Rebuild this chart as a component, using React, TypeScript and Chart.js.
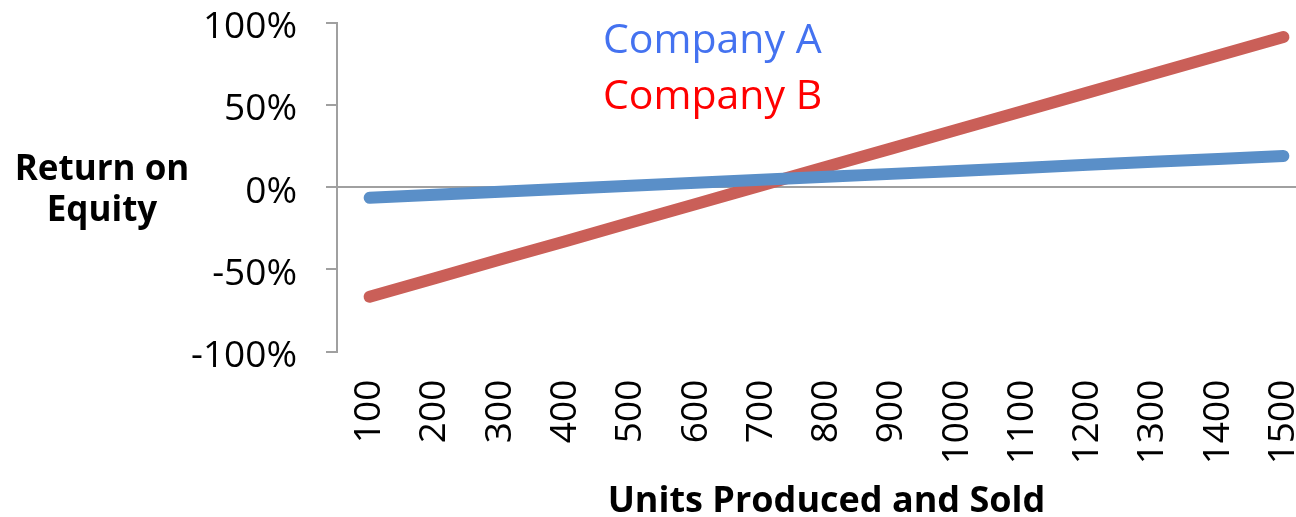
import React, { useEffect, useRef } from "react";
import { Chart, registerables } from "chart.js";

Chart.register(...registerables);

const units = ["100", "200", "300", "400", "500", "600", "700", "800", "900", "1000", "1100", "1200", "1300", "1400", "1500"];
const companyA = [-6.4, -4.6, -2.8, -1.0, 0.9, 2.7, 4.5, 6.3, 8.1, 9.9, 11.7, 13.6, 15.4, 17.2, 19.0];
const companyB = [-66.6, -55.3, -44.0, -32.8, -21.5, -10.2, 1.1, 12.4, 23.6, 34.9, 46.2, 57.5, 68.8, 80.0, 91.3];
const seriesNames = ["Company A", "Company B"];
const yTitleLines = ["Return on", "Equity"];
const xTitle = "Units Produced and Sold";

const FONT = '"Open Sans", "Noto Sans", sans-serif';
const CANVAS_W = 1340;
const CANVAS_H = 517;

const textPlugin = {
  id: "textPlugin",
  afterDraw(chart: any) {
    const ctx = chart.ctx;
    ctx.save();
    ctx.textBaseline = "alphabetic";
    // legend texts
    ctx.textAlign = "left";
    ctx.font = `41px ${FONT}`;
    ctx.fillStyle = "#4472F0";
    ctx.fillText(seriesNames[0], 603, 53);
    ctx.fillStyle = "#FF0000";
    ctx.fillText(seriesNames[1], 603, 109);
    // y title (horizontal)
    ctx.fillStyle = "#000000";
    ctx.textAlign = "center";
    ctx.font = `bold 35px ${FONT}`;
    ctx.fillText(yTitleLines[0], 102, 180);
    ctx.fillText(yTitleLines[1], 102, 221);
    // x title
    const ca = chart.chartArea;
    ctx.font = `bold 36px ${FONT}`;
    ctx.fillText(xTitle, (ca.left + ca.right) / 2, 512);
    ctx.restore();
  },
};

export default function App() {
  const ref = useRef<HTMLCanvasElement | null>(null);

  useEffect(() => {
    if (!ref.current) return;
    const chart = new Chart(ref.current, {
      type: "line",
      data: {
        labels: units,
        datasets: [
          {
            label: seriesNames[0],
            data: companyA,
            borderColor: "#5A8FC8",
            backgroundColor: "#5A8FC8",
            borderWidth: 12,
            borderCapStyle: "round",
            borderJoinStyle: "round",
            pointRadius: 0,
            tension: 0,
            fill: false,
          },
          {
            label: seriesNames[1],
            data: companyB,
            borderColor: "#CA5F58",
            backgroundColor: "#CA5F58",
            borderWidth: 12,
            borderCapStyle: "round",
            borderJoinStyle: "round",
            pointRadius: 0,
            tension: 0,
            fill: false,
          },
        ],
      },
      options: {
        responsive: false,
        animation: false,
        devicePixelRatio: 1,
        layout: { padding: { top: 22.7, right: CANVAS_W - 1316, left: 0, bottom: 0 } },
        plugins: { legend: { display: false }, tooltip: { enabled: false }, title: { display: false } },
        scales: {
          x: {
            type: "category",
            offset: true,
            position: "bottom",
            grid: { display: false, drawTicks: false },
            border: { display: false },
            ticks: {
              autoSkip: false,
              minRotation: 90,
              maxRotation: 90,
              padding: 28,
              color: "#000000",
              font: { family: FONT, size: 37 },
            },
            afterFit: (scale: any) => {
              scale.height = CANVAS_H - 351.7;
              scale.paddingLeft = 0;
              scale.paddingRight = 0;
            },
          },
          y: {
            min: -100,
            max: 100,
            ticks: {
              stepSize: 50,
              padding: 29,
              labelOffset: 5,
              color: "#000000",
              font: { family: FONT, size: 37 },
              callback: (v: any) => `${v}%`,
            },
            grid: {
              color: (c: any) => (c.tick && c.tick.value === 0 ? "#A0A0A0" : "rgba(0,0,0,0)"),
              lineWidth: 2,
              tickColor: "#A0A0A0",
              tickLength: 11,
              drawTicks: true,
            },
            border: { display: true, color: "#A0A0A0", width: 2 },
            afterFit: (scale: any) => {
              scale.width = 337;
              scale.paddingTop = 0;
              scale.paddingBottom = 0;
            },
          },
        },
      },
      plugins: [textPlugin],
    } as any);
    return () => chart.destroy();
  }, []);

  return (
    <div style={{ position: "fixed", left: 0, top: 0, width: 1296, height: 517, overflow: "hidden", background: "#fff" }}>
      <canvas ref={ref} width={CANVAS_W} height={CANVAS_H} style={{ display: "block" }} />
    </div>
  );
}
